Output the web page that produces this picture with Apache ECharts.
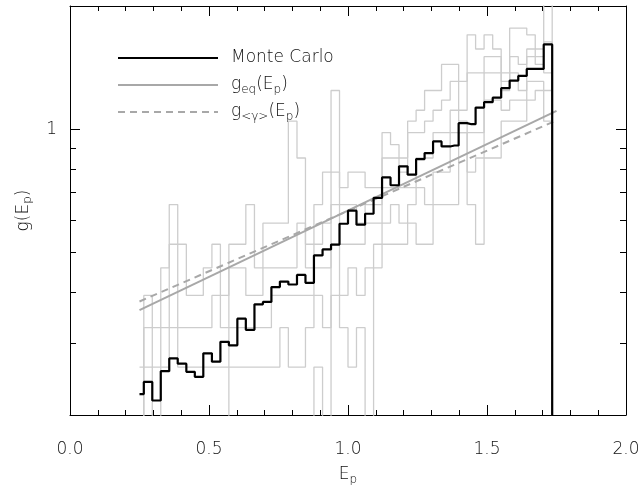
<!DOCTYPE html>
<html>
<head>
<meta charset="utf-8">
<script src="https://cdn.jsdelivr.net/npm/echarts@6/dist/echarts.min.js"></script>
<style>
html,body{margin:0;padding:0;background:#fff;}
#chart{width:640px;height:485px;}
</style>
</head>
<body>
<div id="chart"></div>
<script>
// ---- data ----
const ePoints = [0.250,0.281,0.311,0.342,0.372,0.403,0.434,0.464,0.495,0.526,0.556,0.587,0.617,0.648,0.679,0.709,0.740,0.770,0.801,0.832,0.862,0.893,0.924,0.954,0.985,1.015,1.046,1.077,1.107,1.138,1.168,1.199,1.230,1.260,1.291,1.321,1.352,1.383,1.413,1.444,1.474,1.505,1.536,1.566,1.597,1.628,1.658,1.689,1.719,1.750];
const monteCarlo = [0.225,0.241,0.217,0.256,0.275,0.267,0.255,0.248,0.283,0.270,0.302,0.296,0.344,0.323,0.373,0.378,0.411,0.424,0.417,0.440,0.421,0.491,0.508,0.522,0.587,0.632,0.584,0.621,0.679,0.762,0.729,0.811,0.774,0.845,0.874,0.933,0.907,0.912,1.034,1.028,1.129,1.164,1.194,1.259,1.314,1.349,1.403,1.403,1.611,0.01];
// individual realisations (grey)
const run1 = [0.262,0.392,0.327,0.458,0.654,0.523,0.392,0.392,0.458,0.523,0.392,0.523,0.523,0.654,0.458,0.589,0.589,0.589,1.046,0.850,0.523,0.654,0.785,1.243,0.719,0.785,0.785,0.719,0.719,0.981,0.916,0.850,1.046,1.112,1.243,1.243,1.439,1.439,1.308,1.700,1.570,1.700,1.570,1.373,1.766,1.766,1.700,1.570,2.030,0.15];
const run2 = [0.15,0.327,0.262,0.327,0.523,0.327,0.327,0.327,0.327,0.392,0.327,0.458,0.458,0.392,0.392,0.458,0.458,0.458,0.458,0.589,0.458,0.523,0.589,0.785,0.654,0.654,0.589,0.654,0.654,0.850,0.850,0.785,0.981,0.981,1.046,1.112,1.177,1.308,1.112,1.373,1.373,1.504,1.504,1.308,1.504,1.439,1.570,1.504,1.635,0.15];
const run3 = [0.15,0.262,0.15,0.262,0.327,0.262,0.262,0.262,0.262,0.262,0.262,0.327,0.327,0.327,0.327,0.327,0.392,0.392,0.392,0.392,0.392,0.458,0.458,0.654,0.523,0.523,0.523,0.589,0.589,0.719,0.719,0.719,0.719,0.850,0.850,0.981,0.981,1.112,1.046,0.981,0.981,1.373,1.373,1.243,1.373,1.243,1.504,1.439,1.373,0.15];
const run4 = [0.15,0.15,0.15,0.15,0.15,0.15,0.15,0.15,0.15,0.15,0.15,0.262,0.262,0.262,0.262,0.262,0.262,0.327,0.262,0.262,0.327,0.392,0.327,0.523,0.392,0.458,0.392,0.458,0.523,0.589,0.654,0.589,0.654,0.719,0.654,0.785,0.785,0.981,0.981,0.785,0.850,1.177,1.177,1.112,1.177,1.177,1.308,1.308,1.243,0.15];
const run5 = [0.15,0.15,0.15,0.15,0.15,0.15,0.15,0.15,0.15,0.15,0.15,0.15,0.15,0.15,0.15,0.15,0.15,0.15,0.15,0.15,0.15,0.262,0.15,0.392,0.327,0.262,0.327,0.15,0.458,0.523,0.523,0.523,0.589,0.523,0.523,0.654,0.654,0.654,0.981,0.654,0.523,0.850,0.850,1.046,1.046,1.046,1.177,1.243,1.046,0.15];
const lineE = [0.25, 1.75];
const gEq = [0.361, 1.108];
const gGamma = [0.379, 1.050];
const xTicks = [0.0, 0.5, 1.0, 1.5, 2.0];
const yMajor = [1];
const yMinor = [0.3, 0.4, 0.5, 0.6, 0.7, 0.8, 0.9];

// ---- chart ----
const FONT = "'DejaVu Sans', sans-serif";
const FW = 200;
const TXT = '#111';
const CLEAR = 'rgba(255,255,255,0)';
const pairs = (xs, ys) => xs.map((x, i) => [x, ys[i]]);
const sub = () => ({fontFamily: FONT, fontWeight: FW, fontSize: 12, color: TXT, padding: [10, 0, 0, 0]});

const chart = echarts.init(document.getElementById('chart'), null, {renderer: 'canvas'});

function xAxisDef(pos, main) {
  const a = {
    type: 'value', min: xTicks[0], max: xTicks[xTicks.length - 1], interval: 0.5, position: pos,
    axisLine: {show: true, lineStyle: {color: '#000', width: 1}},
    axisTick: {show: true, inside: true, length: 10, lineStyle: {color: '#000', width: 1}},
    minorTick: {show: true, splitNumber: 5, length: 5, lineStyle: {color: '#000', width: 1}},
    splitLine: {show: false}
  };
  if (main) {
    a.axisLabel = {show: true, margin: 26, fontFamily: FONT, fontWeight: FW, fontSize: 17, color: TXT,
      formatter: v => v.toFixed(1)};
    a.name = 'E{s|p}';
    a.nameLocation = 'middle';
    a.nameGap = 40;
    a.nameTextStyle = {fontFamily: FONT, fontWeight: FW, fontSize: 17, color: TXT, lineHeight: 24, rich: {s: sub()}};
  } else {
    a.axisLabel = {show: true, inside: true, fontSize: 12, color: CLEAR};
  }
  return a;
}
function yAxisDef(pos, vals, len, withLine, main) {
  const a = {
    type: 'log', logBase: 10, min: 0.2, max: 2, position: pos,
    splitLine: {show: false}, minorTick: {show: false},
    axisLine: {show: withLine, lineStyle: {color: '#000', width: 1}},
    axisTick: {show: true, inside: true, length: len, customValues: vals.slice(), lineStyle: {color: '#000', width: 1}}
  };
  if (main) {
    a.axisLabel = {show: true, customValues: vals.slice(), margin: 13, fontFamily: FONT, fontWeight: FW, fontSize: 17,
      color: TXT, formatter: v => String(Math.round(v))};
    a.name = 'g(E{s|p})';
    a.nameLocation = 'middle';
    a.nameGap = 13;
    a.nameTextStyle = {fontFamily: FONT, fontWeight: FW, fontSize: 17, color: TXT, lineHeight: 24, rich: {s: sub()}};
  } else {
    a.axisLabel = {show: true, inside: true, customValues: vals.slice(), fontSize: 12, color: CLEAR};
  }
  return a;
}

const greyRuns = [run1, run2, run3, run4, run5].map((r, i) => ({
  name: 'run' + (i + 1), type: 'line', step: 'middle', data: pairs(ePoints, r),
  symbol: 'none', silent: true, z: 1, itemStyle: {color: '#cdcdcd'},
  lineStyle: {color: '#cdcdcd', width: 1.3}
}));

chart.setOption({
  animation: false,
  backgroundColor: '#fff',
  grid: {left: 70, right: 14, top: 6, bottom: 70, outerBoundsMode: 'none'},
  legend: {
    data: ['Monte Carlo', 'geq', 'ggamma'],
    orient: 'vertical', left: 112, top: 41,
    itemWidth: 100, itemHeight: 14, itemGap: 3,
    selectedMode: false,
    itemStyle: {opacity: 0},
    textStyle: {fontFamily: FONT, fontWeight: FW, fontSize: 17, color: TXT, lineHeight: 24, padding: [0, 0, 0, 8],
      rich: {s: sub()}},
    formatter: function (n) {
      if (n === 'geq') return 'g{s|eq}(E{s|p})';
      if (n === 'ggamma') return 'g{s|<γ>}(E{s|p})';
      return n;
    }
  },
  xAxis: [xAxisDef('bottom', true), xAxisDef('top', false)],
  yAxis: [
    yAxisDef('left', yMajor, 10, true, true),
    yAxisDef('left', yMinor, 6, false, false),
    yAxisDef('right', yMajor, 10, true, false),
    yAxisDef('right', yMinor, 6, false, false)
  ],
  series: greyRuns.concat([
    {name: 'geq', type: 'line', data: pairs(lineE, gEq), symbol: 'none', silent: true, z: 3,
     itemStyle: {color: '#a8a8a8'}, lineStyle: {color: '#a8a8a8', width: 2}},
    {name: 'ggamma', type: 'line', data: pairs(lineE, gGamma), symbol: 'none', silent: true, z: 3,
     itemStyle: {color: '#a8a8a8'}, lineStyle: {color: '#a8a8a8', width: 2, type: [7, 5]}},
    {name: 'Monte Carlo', type: 'line', step: 'middle', data: pairs(ePoints, monteCarlo), symbol: 'none',
     silent: true, z: 5, itemStyle: {color: '#000'}, lineStyle: {color: '#000', width: 2.2}}
  ])
});
</script>
</body>
</html>
